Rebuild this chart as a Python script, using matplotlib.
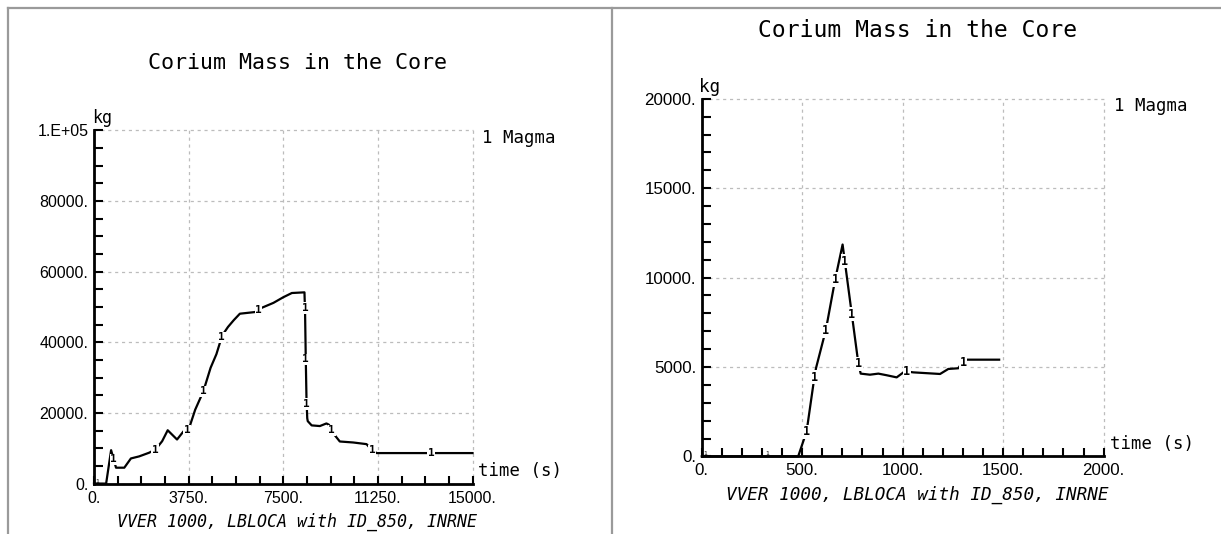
import numpy as np
import matplotlib
matplotlib.use("Agg")
import matplotlib.pyplot as plt
from matplotlib.lines import Line2D
from matplotlib.ticker import MultipleLocator

# ==========================================
# 1. DATA
# ==========================================
TITLE = "Corium Mass in the Core"
SUBTITLE = "VVER 1000, LBLOCA with ID_850, INRNE"
SERIES_NAME = "1 Magma"

# left panel: long transient, 0..15000 s
left_t = [0, 480, 677, 872, 1200, 1462, 1788, 2180, 2440, 2700, 2920, 3290,
          3550, 3750, 4010, 4330, 4620, 4850, 5080, 5310, 5540, 5780, 6380,
          6650, 7110, 7500, 7840, 8340, 8365, 8390, 8420, 8450, 8470, 8625,
          8950, 9210, 9310, 9480, 9740, 10270, 10800, 11000, 11200, 15000]
left_mass = [0, 0, 9470, 4500, 4500, 7120, 7700, 8730, 9660, 12000, 15100,
             12480, 14820, 15300, 20930, 26080, 32790, 36640, 41950, 44360,
             46290, 48100, 48570, 49780, 51170, 52760, 53960, 54150, 48000,
             36000, 24000, 18500, 17680, 16480, 16290, 17030, 16660, 14240,
             11920, 11640, 11170, 9570, 8640, 8640]
left_marks = [780, 2430, 3690, 4330, 5060, 6520, 8358, 8392, 8428, 9420,
              11030, 13350]
left_zero_marks = [110]
left_xticks = [0, 3750, 7500, 11250, 15000]
left_xlabels = ["0.", "3750.", "7500.", "11250.", "15000."]
left_yticks = [0, 20000, 40000, 60000, 80000, 100000]
left_ylabels = ["0.", "20000.", "40000.", "60000.", "80000.", "1.E+05"]

# right panel: early phase, 0..2000 s
right_t = [0, 480, 522, 559, 569, 618, 664, 701, 713, 746, 779, 791, 837,
           879, 920, 970, 1011, 1053, 1186, 1227, 1277, 1294, 1318, 1480]
right_mass = [0, 0, 1400, 4300, 4950, 7090, 9890, 11850, 10830, 8030, 5230,
              4630, 4570, 4630, 4540, 4420, 4760, 4700, 4610, 4890, 4930,
              5230, 5410, 5410]
right_marks = [521, 561, 617, 664, 712, 747, 780, 1020, 1300]
right_zero_marks = [16, 325]
right_xticks = [0, 500, 1000, 1500, 2000]
right_xlabels = ["0.", "500.", "1000.", "1500.", "2000."]
right_yticks = [0, 5000, 10000, 15000, 20000]
right_ylabels = ["0.", "5000.", "10000.", "15000.", "20000."]

MONO = "DejaVu Sans Mono"
SANS = "Liberation Sans"

# ==========================================
# 2. ONE PANEL
# ==========================================
def dibujar_panel(ax, t, m, marks, zero_marks, xticks, xlabels, yticks,
                  ylabels, xminor, yminor, k=1.0):
    # k: the right screenshot is a bit larger than the left one
    ax.set_xlim(xticks[0], xticks[-1])
    ax.set_ylim(yticks[0], yticks[-1])

    for s in ["top", "right"]:
        ax.spines[s].set_visible(False)
    for s in ["left", "bottom"]:
        ax.spines[s].set_linewidth(2.0)
        ax.spines[s].set_zorder(5)

    ax.set_xticks(xticks)
    ax.set_xticklabels(xlabels, fontfamily=SANS, fontsize=11.5 * k)
    ax.set_yticks(yticks)
    ax.set_yticklabels(ylabels, fontfamily=SANS, fontsize=11.5 * k)
    ax.xaxis.set_minor_locator(MultipleLocator(xminor))
    ax.yaxis.set_minor_locator(MultipleLocator(yminor))
    ax.tick_params(axis="x", which="both", direction="in", length=5.5,
                   width=1.5, pad=5)
    ax.tick_params(axis="y", which="both", direction="in", length=6.5,
                   width=1.5, pad=4)

    ax.grid(True, which="major", color="#bcbcbc", linestyle=(0, (2.5, 3)),
            linewidth=0.9)
    for g in ax.get_xgridlines() + ax.get_ygridlines():
        g.set_clip_on(False)

    ax.plot(t, m, color="black", linewidth=1.6, clip_on=False, zorder=3)

    # curve labels "1" sitting on the line
    for tm in marks:
        ym = np.interp(tm, t, m)
        ax.text(tm, ym, "1", ha="center", va="center", fontsize=8 * k,
                fontfamily=MONO, fontweight="bold", zorder=4,
                bbox=dict(boxstyle="square,pad=0.05", fc="white", ec="none"))
    for tm in zero_marks:
        ax.text(tm, 0, "1", ha="center", va="bottom", fontsize=4.5,
                fontfamily=MONO, zorder=6)

    ax.text(0.537, 1.19, TITLE, transform=ax.transAxes, ha="center",
            va="center", fontsize=15.6 * k, fontfamily=MONO)
    ax.text(0.537, -0.108, SUBTITLE, transform=ax.transAxes, ha="center",
            va="center", fontsize=12 * k, fontfamily=MONO, fontstyle="oblique")
    ax.text(-0.006, 1.034, "kg", transform=ax.transAxes, ha="left",
            va="center", fontsize=12 * k, fontfamily=MONO)
    ax.text(1.025, 0.979, SERIES_NAME, transform=ax.transAxes, ha="left",
            va="center", fontsize=12.5, fontfamily=MONO)
    ax.text(1.015, 0.035, "time (s)", transform=ax.transAxes, ha="left",
            va="center", fontsize=12.5, fontfamily=MONO)


# ==========================================
# 3. FIGURE
# ==========================================
fig = plt.figure(figsize=(12.21, 5.34), dpi=100)

ax_l = fig.add_axes([0.0770, 0.0944, 0.3100, 0.6614])
ax_r = fig.add_axes([0.5747, 0.1453, 0.3292, 0.6697])

dibujar_panel(ax_l, left_t, left_mass, left_marks, left_zero_marks,
              left_xticks, left_xlabels, left_yticks, left_ylabels,
              937.5, 5000)
dibujar_panel(ax_r, right_t, right_mass, right_marks, right_zero_marks,
              right_xticks, right_xlabels, right_yticks, right_ylabels,
              100, 1000, k=1.06)

# gray frame around the two screenshots
gris = "#9a9a9a"
y_top = 1 - 7.5 / 534
fig.add_artist(Line2D([8 / 1221, 1], [y_top, y_top], color=gris, lw=1.6))
fig.add_artist(Line2D([8 / 1221, 8 / 1221], [0, y_top], color=gris, lw=1.6))
fig.add_artist(Line2D([612 / 1221, 612 / 1221], [0.002, y_top], color=gris,
                      lw=1.6))

fig.savefig("out.png", dpi=100)
